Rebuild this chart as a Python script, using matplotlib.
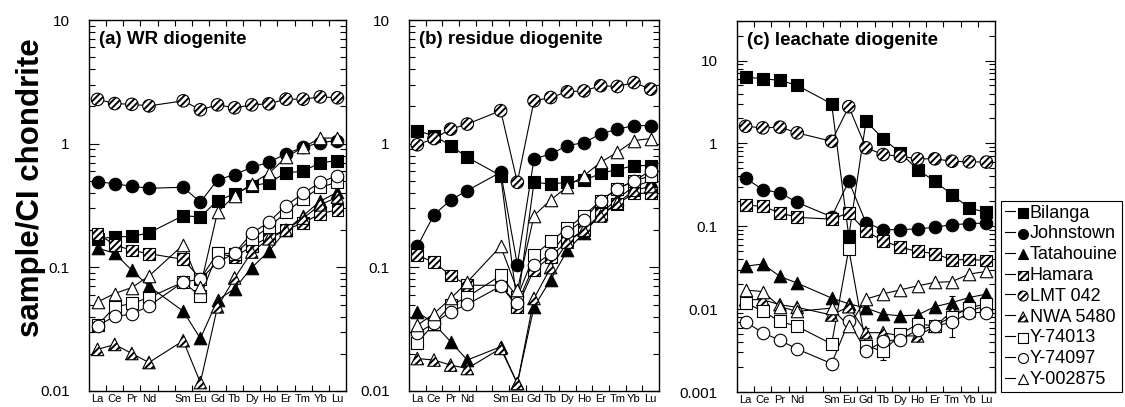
import numpy as np
import matplotlib
matplotlib.use("Agg")
import matplotlib.pyplot as plt
from matplotlib.legend_handler import HandlerTuple
from matplotlib.ticker import FixedLocator, FixedFormatter, LogLocator, NullFormatter

plt.rcParams["font.family"] = ["Liberation Sans", "DejaVu Sans"]
plt.rcParams["hatch.linewidth"] = 1.4

# Rare earth elements in atomic order (Pm has no data)
ree_all = ["La", "Ce", "Pr", "Nd", "Pm", "Sm", "Eu", "Gd", "Tb", "Dy", "Ho", "Er", "Tm", "Yb", "Lu"]
ree = ["La", "Ce", "Pr", "Nd", "Sm", "Eu", "Gd", "Tb", "Dy", "Ho", "Er", "Tm", "Yb", "Lu"]

samples = ["Bilanga", "Johnstown", "Tatahouine", "Hamara", "LMT 042",
           "NWA 5480", "Y-74013", "Y-74097", "Y-002875"]

# (a) whole rock, CI-normalised
wr_bilanga    = [0.170, 0.176, 0.178, 0.190, 0.262, 0.255, 0.347, 0.393, 0.454, 0.485, 0.580, 0.600, 0.700, 0.730]
wr_johnstown  = [0.494, 0.473, 0.453, 0.436, 0.444, 0.336, 0.510, 0.562, 0.644, 0.707, 0.830, 0.934, 1.020, 1.060]
wr_tatahouine = [0.143, 0.130, 0.0946, 0.0703, 0.0442, 0.0266, 0.0542, 0.0673, 0.0995, 0.135, 0.199, 0.262, 0.343, 0.405]
wr_hamara     = [0.187, 0.152, 0.137, 0.129, 0.116, 0.081, 0.130, 0.121, 0.148, 0.176, 0.201, 0.229, 0.271, 0.292]
wr_lmt042     = [2.28, 2.11, 2.08, 2.02, 2.22, 1.88, 2.06, 1.95, 2.06, 2.10, 2.29, 2.29, 2.39, 2.35]
wr_nwa5480    = [0.0217, 0.0238, 0.0201, 0.0170, 0.0255, 0.0117, 0.0479, 0.082, 0.133, 0.170, 0.200, 0.250, 0.320, 0.370]
wr_y74013     = [0.034, 0.0479, 0.051, 0.057, 0.076, 0.0584, 0.130, 0.129, 0.170, 0.211, 0.279, 0.358, 0.444, 0.488]
wr_y74097     = [0.0336, 0.0402, 0.0418, 0.0487, 0.0761, 0.080, 0.110, 0.130, 0.189, 0.232, 0.316, 0.397, 0.487, 0.552]
wr_y002875    = [0.0525, 0.0614, 0.0686, 0.085, 0.152, 0.0694, 0.279, 0.380, 0.476, 0.576, 0.776, 0.934, 1.110, 1.110]

# (b) acid-leached residues
res_bilanga    = [1.27, 1.16, 0.964, 0.775, 0.552, 0.050, 0.487, 0.472, 0.487, 0.504, 0.576, 0.617, 0.665, 0.665]
res_johnstown  = [0.148, 0.266, 0.351, 0.418, 0.587, 0.105, 0.753, 0.826, 0.964, 1.02, 1.20, 1.31, 1.40, 1.40]
res_tatahouine = [0.0437, 0.035, 0.025, 0.0178, 0.0228, 0.0115, 0.0479, 0.0796, 0.137, 0.190, 0.270, 0.360, 0.450, 0.500]
res_hamara     = [0.125, 0.110, 0.086, 0.0716, 0.0716, 0.0479, 0.0958, 0.121, 0.165, 0.199, 0.271, 0.326, 0.397, 0.397]
res_lmt042     = [0.98, 1.10, 1.31, 1.44, 1.85, 0.487, 2.22, 2.36, 2.63, 2.67, 2.94, 2.90, 3.12, 2.76]
res_nwa5480    = [0.0183, 0.0178, 0.0162, 0.0152, 0.0221, 0.0115, 0.056, 0.0995, 0.160, 0.200, 0.260, 0.330, 0.420, 0.450]
res_y74013     = [0.0245, 0.0351, 0.0494, 0.0576, 0.086, 0.0576, 0.125, 0.162, 0.207, 0.262, 0.347, 0.431, 0.500, 0.550]
res_y74097     = [0.0292, 0.0355, 0.0436, 0.0503, 0.0703, 0.051, 0.104, 0.129, 0.193, 0.243, 0.347, 0.431, 0.500, 0.605]
res_y002875    = [0.034, 0.0423, 0.056, 0.0761, 0.148, 0.0652, 0.262, 0.350, 0.450, 0.552, 0.707, 0.851, 1.06, 1.10]

# (c) acid leachates
lea_bilanga    = [6.30, 6.04, 5.76, 5.01, 3.01, 0.0755, 1.85, 1.14, 0.770, 0.483, 0.349, 0.241, 0.166, 0.147]
lea_johnstown  = [0.380, 0.277, 0.253, 0.194, 0.130, 0.349, 0.110, 0.091, 0.091, 0.093, 0.097, 0.105, 0.107, 0.110]
lea_tatahouine = [0.033, 0.035, 0.0248, 0.0206, 0.0136, 0.0116, 0.0103, 0.0087, 0.0083, 0.0085, 0.0107, 0.0120, 0.0138, 0.0152]
lea_hamara     = [0.180, 0.174, 0.145, 0.128, 0.122, 0.145, 0.0867, 0.067, 0.0556, 0.0498, 0.0467, 0.0394, 0.0397, 0.0387]
lea_lmt042     = [1.61, 1.54, 1.57, 1.34, 1.06, 2.77, 0.885, 0.734, 0.700, 0.651, 0.651, 0.609, 0.600, 0.595]
lea_nwa5480    = [0.0130, 0.0130, 0.0113, 0.0105, 0.0085, 0.0107, 0.0052, 0.0052, 0.00475, 0.00475, 0.0062, 0.0094, 0.0095, 0.0110]
lea_y74013     = [0.0120, 0.0094, 0.0071, 0.0062, 0.0038, 0.0531, 0.0036, 0.0031, 0.0050, 0.0066, 0.0063, 0.0081, 0.0104, 0.0116]
lea_y74097     = [0.0070, 0.0052, 0.0042, 0.0033, 0.0022, 0.0071, 0.0031, 0.0041, 0.0043, 0.0056, 0.0063, 0.0069, 0.0091, 0.0091]
lea_y002875    = [0.0170, 0.0163, 0.0107, 0.0094, 0.0103, 0.0062, 0.0132, 0.0153, 0.0171, 0.0191, 0.0210, 0.0215, 0.0265, 0.0285]

# 1-sigma uncertainties on the leachates (0 = smaller than symbol)
lea_err_tatahouine = [0, 0, 0, 0, 0, 0, 0, 0, 0, 0, 0, 0.0025, 0, 0]
lea_err_y74013     = [0, 0, 0, 0, 0, 0, 0, 0.0007, 0, 0, 0, 0.0035, 0, 0]
lea_err_y74097     = [0, 0, 0.0006, 0, 0.0003, 0, 0.0004, 0, 0, 0, 0, 0, 0, 0.0008]
lea_err_nwa5480    = [0, 0, 0, 0, 0, 0, 0.0007, 0, 0, 0, 0, 0, 0, 0]

panel_titles = ["(a) WR diogenite", "(b) residue diogenite", "(c) leachate diogenite"]
panel_data = [
    [wr_bilanga, wr_johnstown, wr_tatahouine, wr_hamara, wr_lmt042,
     wr_nwa5480, wr_y74013, wr_y74097, wr_y002875],
    [res_bilanga, res_johnstown, res_tatahouine, res_hamara, res_lmt042,
     res_nwa5480, res_y74013, res_y74097, res_y002875],
    [lea_bilanga, lea_johnstown, lea_tatahouine, lea_hamara, lea_lmt042,
     lea_nwa5480, lea_y74013, lea_y74097, lea_y002875],
]
lea_errors = {2: lea_err_tatahouine, 5: lea_err_nwa5480, 6: lea_err_y74013, 7: lea_err_y74097}

y_limits = [(0.01, 10), (0.01, 10), (0.001, 30)]
y_majors = [[0.01, 0.1, 1, 10], [0.01, 0.1, 1, 10], [0.001, 0.01, 0.1, 1, 10]]
y_major_labels = [["0.01", "0.1", "1", "10"], ["0.01", "0.1", "1", "10"],
                  ["0.001", "0.01", "0.1", "1", "10"]]

# symbol styles: marker, face colour, hatch
styles = [("s", "black", None), ("o", "black", None), ("^", "black", None),
          ("s", "white", "/////"), ("o", "white", "/////"), ("^", "white", "/////"),
          ("s", "white", None), ("o", "white", None), ("^", "white", None)]
marker_size = {"s": 8.5, "o": 9.0, "^": 9.0}

xpos = [ree_all.index(e) + 1 for e in ree]

W, H = 1125, 407
fig = plt.figure(figsize=(W / 100, H / 100), dpi=100)
boxes = [(89, 20, 346, 391), (409, 20, 659, 391), (737, 21, 995, 392)]

legend_handles = []
for p, (x0, y0, x1, y1) in enumerate(boxes):
    ax = fig.add_axes([x0 / W, 1 - y1 / H, (x1 - x0) / W, (y1 - y0) / H])
    ax.set_yscale("log")
    for i, vals in enumerate(panel_data[p]):
        mk, fc, hatch = styles[i]
        ms = marker_size[mk]
        ln, = ax.plot(xpos, vals, "-", color="black", lw=0.8, zorder=2)
        if p == 2 and i in lea_errors:
            err = np.array(lea_errors[i], dtype=float)
            sel = err > 0
            ax.errorbar(np.array(xpos)[sel], np.array(vals)[sel], yerr=err[sel],
                        fmt="none", ecolor="black", elinewidth=0.8, capsize=2.5,
                        capthick=0.8, zorder=2.5)
        sc = ax.scatter(xpos, vals, s=ms ** 2, marker=mk, facecolor=fc,
                        edgecolor="black", linewidths=0.8, hatch=hatch,
                        zorder=3 + i * 0.01)
        if p == 2:
            legend_handles.append((ln, sc))

    ax.set_xlim(0.5, 15.5)
    ax.set_ylim(*y_limits[p])
    ax.xaxis.set_major_locator(FixedLocator(np.arange(1.5, 15, 1.0)))
    ax.xaxis.set_major_formatter(NullFormatter())
    ax.xaxis.set_minor_locator(FixedLocator(np.arange(1, 16)))
    ax.xaxis.set_minor_formatter(FixedFormatter([e if e != "Pm" else "" for e in ree_all]))
    ax.tick_params(axis="x", which="major", direction="in", length=4, width=0.8,
                   top=True, bottom=True)
    ax.tick_params(axis="x", which="minor", length=0, labelsize=8, pad=2.5)

    ax.yaxis.set_major_locator(FixedLocator(y_majors[p]))
    ax.yaxis.set_major_formatter(FixedFormatter(y_major_labels[p]))
    ax.yaxis.set_minor_locator(LogLocator(base=10, subs=np.arange(2, 10), numticks=20))
    ax.yaxis.set_minor_formatter(NullFormatter())
    ax.tick_params(axis="y", which="major", direction="in", length=7, width=0.8,
                   left=True, right=True, labelsize=11, pad=14)
    ax.tick_params(axis="y", which="minor", direction="in", length=4, width=0.8,
                   left=True, right=True)
    for sp in ax.spines.values():
        sp.set_linewidth(1.0)

    ax.text(10 / (x1 - x0), 1 - 11 / (y1 - y0), panel_titles[p], transform=ax.transAxes,
            ha="left", va="top", fontsize=13.5, fontweight="bold")

fig.text(31 / W, 1 - 188 / H, "sample/CI chondrite", rotation=90, ha="center",
         va="center", fontsize=22.5, fontweight="bold")

leg = fig.legend(legend_handles, samples, handler_map={tuple: HandlerTuple(ndivide=None)},
                 loc="upper left", bbox_to_anchor=(1001 / W, 1 - 201 / H),
                 frameon=True, fancybox=False, framealpha=1, edgecolor="black",
                 fontsize=13, handlelength=1.3, handletextpad=0.1, markerscale=0.8,
                 labelspacing=0.21, borderpad=0.2, borderaxespad=0, scatterpoints=1)
leg.get_frame().set_linewidth(0.8)

fig.savefig("out.png", dpi=100)
